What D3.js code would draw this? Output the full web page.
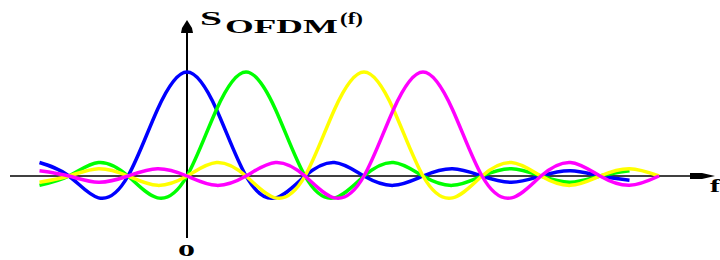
<!DOCTYPE html>
<html><head><meta charset="utf-8">
<script src="https://cdn.jsdelivr.net/npm/d3@7/dist/d3.min.js"></script>
<style>html,body{margin:0;padding:0;background:#fff;overflow:hidden}</style>
</head><body>
<svg id="c" width="720" height="260"></svg>
<script>
// Frequency samples (in units of subcarrier spacing)
const freq = [-2.5,-2,-1.5,-1,-0.5,0,0.5,1,1.5,2,2.5,3,3.5,4,4.5,5,5.5,6,6.5,7,7.5,8];
// Subcarrier spectra (normalised amplitude); null = not drawn
const blue    = [0.13,0,-0.21,0,0.64,1,0.64,0,-0.21,0,0.13,0,-0.09,0,0.07,0,-0.06,0,0.05,0,-0.04,null];
const green   = [-0.09,0,0.13,0,-0.21,0,0.64,1,0.64,0,-0.21,0,0.13,0,-0.09,0,0.07,0,-0.06,0,0.05,null];
const yellow  = [-0.06,0,0.07,0,-0.09,0,0.13,0,-0.21,0,0.64,1,0.64,0,-0.21,0,0.13,0,-0.09,0,0.07,0];
const magenta = [0.05,0,-0.06,0,0.07,0,-0.09,0,0.13,0,-0.21,0,0.64,1,0.64,0,-0.21,0,0.13,0,-0.09,0];
const seriesNames = ["blue","green","yellow","magenta"];
const seriesColors = ["#0000ff","#00ff00","#ffff00","#ff00ff"];
const seriesValues = [blue, green, yellow, magenta];
const yLabel = ["S","OFDM","(f)"];
const xLabel = "f";
const originLabel = "0";

const svg = d3.select("#c");
const x = d3.scaleLinear().domain([-2, 8]).range([69, 659]);
const y = d3.scaleLinear().domain([0, 1]).range([176, 72]);

// axes
const y0 = y(0), x0 = x(0);
svg.append("line").attr("x1", 10).attr("x2", 695).attr("y1", y0).attr("y2", y0)
  .attr("stroke", "#000").attr("stroke-width", 1.5);
svg.append("polygon").attr("points", `690,${y0-3} 702,${y0-3} 715,${y0} 702,${y0+3} 690,${y0+3}`).attr("fill", "#000");
svg.append("line").attr("x1", x0).attr("x2", x0).attr("y1", 238).attr("y2", 30)
  .attr("stroke", "#000").attr("stroke-width", 2);
svg.append("polygon").attr("points", `${x0},20 ${x0+5},28 ${x0+6},33 ${x0-6},33 ${x0-5},28`).attr("fill", "#000");

// curves
const line = d3.line()
  .defined(d => d[1] !== null)
  .x(d => x(d[0])).y(d => y(d[1]))
  .curve(d3.curveNatural);
seriesValues.forEach((vals, i) => {
  const pts = freq.map((f, j) => [f, vals[j]]).filter(d => d[1] !== null);
  svg.append("path").attr("d", line(pts)).attr("fill", "none")
    .attr("stroke", seriesColors[i]).attr("stroke-width", 3.5)
    .attr("stroke-linejoin", "round").attr("class", seriesNames[i]);
});

// labels
const font = "'Liberation Serif','DejaVu Serif',serif";
function label(t, px, py, size, len) {
  svg.append("text").text(t).attr("x", px).attr("y", py)
    .attr("font-family", font).attr("font-weight", "bold").attr("font-size", size)
    .attr("textLength", len).attr("lengthAdjust", "spacingAndGlyphs").attr("fill", "#000");
}
label(yLabel[0], 200, 25, 18, 22);
label(yLabel[1], 225, 33, 18, 113);
label(yLabel[2], 340, 24, 16, 23);
label(originLabel, 178, 256, 17, 17);
label(xLabel, 710, 192, 18, 10);
</script>
</body></html>
